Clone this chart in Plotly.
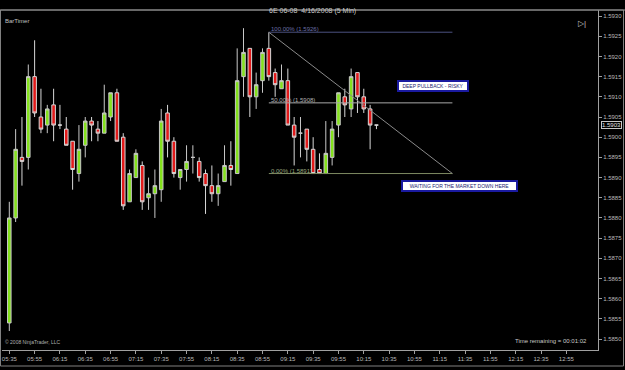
import math
import plotly.graph_objects as go
import pandas as pd

# ---- data (6E 06-08, 5 min bars, 4/16/2008) ----
opens = [1.5854, 1.5880, 1.5895, 1.5895, 1.5915, 1.5905, 1.5903, 1.5908, 1.5903, 1.5902,
         1.5899, 1.5891, 1.5898, 1.5904, 1.5902, 1.5901, 1.5905, 1.5911, 1.5900, 1.5884,
         1.5890, 1.5893, 1.5885, 1.5886, 1.5887, 1.5906, 1.5899, 1.5890, 1.5892, 1.5895,
         1.5894, 1.5891, 1.5888, 1.5886, 1.5889, 1.5893, 1.5891, 1.5915, 1.5922, 1.5910,
         1.5914, 1.5922, 1.5916, 1.5912, 1.5914, 1.5903, 1.5901, 1.5902, 1.5897, 1.5892,
         1.5891, 1.5895, 1.5903, 1.5910, 1.5907, 1.5916, 1.5910, 1.5907, 1.5903]
highs = [1.5884, 1.5902, 1.5905, 1.5918, 1.5924, 1.5912, 1.5908, 1.5912, 1.5908, 1.5905,
         1.5899, 1.5903, 1.5905, 1.5905, 1.5904, 1.5913, 1.5911, 1.5912, 1.5901, 1.5892,
         1.5897, 1.5894, 1.5890, 1.5892, 1.5907, 1.5908, 1.5900, 1.5892, 1.5898, 1.5898,
         1.5895, 1.5892, 1.5893, 1.5891, 1.5898, 1.5899, 1.5922, 1.5927, 1.5922, 1.5916,
         1.5922, 1.5926, 1.5917, 1.5918, 1.5917, 1.5905, 1.5905, 1.5902, 1.5900, 1.5896,
         1.5904, 1.5904, 1.5911, 1.5912, 1.5917, 1.5916, 1.5912, 1.5908, 1.5903]
lows = [1.5852, 1.5879, 1.5888, 1.5892, 1.5905, 1.5901, 1.5901, 1.5899, 1.5902, 1.5898,
        1.5887, 1.5889, 1.5895, 1.5899, 1.5899, 1.5901, 1.5904, 1.5899, 1.5882, 1.5884,
        1.5890, 1.5882, 1.5882, 1.5880, 1.5884, 1.5895, 1.5890, 1.5887, 1.5889, 1.5891,
        1.5889, 1.5881, 1.5884, 1.5883, 1.5889, 1.5888, 1.5891, 1.5910, 1.5905, 1.5907,
        1.5911, 1.5914, 1.5910, 1.5912, 1.5903, 1.5893, 1.5895, 1.5894, 1.5891, 1.5891,
        1.5891, 1.5893, 1.5900, 1.5905, 1.5905, 1.5906, 1.5906, 1.5897, 1.5902]
closes = [1.5880, 1.5897, 1.5894, 1.5915, 1.5906, 1.5902, 1.5907, 1.5903, 1.5903, 1.5898,
          1.5892, 1.5897, 1.5904, 1.5903, 1.5901, 1.5906, 1.5911, 1.5899, 1.5883, 1.5891,
          1.5896, 1.5884, 1.5886, 1.5888, 1.5904, 1.5899, 1.5891, 1.5892, 1.5894, 1.5895,
          1.5890, 1.5888, 1.5886, 1.5888, 1.5893, 1.5892, 1.5914, 1.5921, 1.5910, 1.5913,
          1.5921, 1.5915, 1.5913, 1.5914, 1.5903, 1.5900, 1.5901, 1.5897, 1.5891, 1.5891,
          1.5896, 1.5902, 1.5911, 1.5908, 1.5915, 1.5910, 1.5907, 1.5903, 1.5903]
times = pd.date_range("2008-04-16 05:35", periods=len(opens), freq="5min")
tick_times = pd.date_range("2008-04-16 05:35", "2008-04-16 12:55", freq="20min")

fib_high = 1.5926
fib_low = 1.5891
fib_mid = (fib_high + fib_low) / 2
fib_start = "2008-04-16 09:00"
fib_end = "2008-04-16 11:25"
last_price = 1.5903


def trunc4(v):
    return f"{math.floor(v * 10000 + 1e-6) / 10000:.4f}"


# ---- layout geometry helpers ----
W, H = 625, 370
ML, MR, MT, MB = 2, 27, 10, 20
PW, PH = W - ML - MR, H - MT - MB


def px(x):
    return (x - ML) / PW


def py(y):
    return (H - MB - y) / PH


FONT = "Liberation Sans"
GREY = "#b8b8b8"

fig = go.Figure()
fig.add_trace(go.Candlestick(
    x=times, open=opens, high=highs, low=lows, close=closes,
    increasing=dict(fillcolor="#84e11c", line=dict(color="#c8c8c8", width=1)),
    decreasing=dict(fillcolor="#e21a1a", line=dict(color="#d8d8d8", width=1)),
    whiskerwidth=0, showlegend=False, hoverinfo="skip",
))

shapes = []
# fib levels
shapes.append(dict(type="line", xref="x", yref="y", x0=fib_start, x1=fib_end,
                   y0=fib_high, y1=fib_high, line=dict(color="#4c5180", width=1)))
shapes.append(dict(type="line", xref="x", yref="y", x0=fib_start, x1=fib_end,
                   y0=fib_mid, y1=fib_mid, line=dict(color="#a8a8a8", width=1)))
shapes.append(dict(type="line", xref="x", yref="y", x0=fib_start, x1=fib_end,
                   y0=fib_low, y1=fib_low, line=dict(color="#7d8a62", width=1)))
shapes.append(dict(type="line", xref="x", yref="y", x0=fib_start, x1=fib_end,
                   y0=fib_high, y1=fib_low, line=dict(color="#8a8a8a", width=1)))
# frame
shapes.append(dict(type="rect", xref="paper", yref="paper", x0=px(0.5), x1=px(623.5),
                   y0=py(366), y1=py(10), line=dict(color="#808080", width=1)))
shapes.append(dict(type="line", xref="paper", yref="paper", x0=px(0), x1=px(625),
                   y0=py(10), y1=py(10), line=dict(color="#909090", width=1)))
fig.update_layout(shapes=shapes)

ann = []
ann.append(dict(text="6E 06-08  4/16/2008 (5 Min)", x=px(312), y=py(5), xref="paper", yref="paper",
                xanchor="center", showarrow=False, font=dict(size=7, color="#c8c8c8", family=FONT)))
ann.append(dict(text="BarTimer", x=px(3), y=py(16), xref="paper", yref="paper", xanchor="left",
                showarrow=False, font=dict(size=6, color="#c0c0c0", family=FONT)))
ann.append(dict(text="▷|", x=px(582), y=py(17), xref="paper", yref="paper", xanchor="center",
                showarrow=False, font=dict(size=8, color="#c0c0c0", family=FONT)))
ann.append(dict(text="© 2008 NinjaTrader, LLC", x=px(3), y=py(347), xref="paper", yref="paper",
                xanchor="left", showarrow=False, font=dict(size=5, color="#b0b0b0", family=FONT)))
ann.append(dict(text="Time remaining = 00:01:02", x=px(589), y=py(346), xref="paper", yref="paper",
                xanchor="right", showarrow=False, font=dict(size=6, color="#c8c8c8", family=FONT)))
# fib labels
ann.append(dict(text=f"100.00% ({trunc4(fib_high)})", x=fib_start, y=fib_high, xref="x", yref="y",
                xanchor="left", yanchor="bottom", yshift=-2, showarrow=False,
                font=dict(size=6, color="#6c70a8", family=FONT)))
ann.append(dict(text=f"50.00% ({trunc4(fib_mid)})", x=fib_start, y=fib_mid, xref="x", yref="y",
                xanchor="left", yanchor="bottom", yshift=-2, showarrow=False,
                font=dict(size=6, color="#b0b0b0", family=FONT)))
ann.append(dict(text=f"0.00% ({trunc4(fib_low)})", x=fib_start, y=fib_low, xref="x", yref="y",
                xanchor="left", yanchor="bottom", yshift=-2, showarrow=False,
                font=dict(size=6, color="#9aa77e", family=FONT)))
# text boxes
ann.append(dict(text="DEEP PULLBACK - RISKY", x=px(433), y=py(85.5), xref="paper", yref="paper",
                xanchor="center", yanchor="middle",
                showarrow=False, bgcolor="white", bordercolor="#1a1aa0", borderwidth=2, borderpad=1,
                width=66, font=dict(size=5, color="#1a1a70", family=FONT)))
ann.append(dict(text="WAITING FOR THE MARKET DOWN HERE", x=px(459), y=py(186), xref="paper", yref="paper",
                xanchor="center", yanchor="middle",
                showarrow=False, bgcolor="white", bordercolor="#1a1aa0", borderwidth=2, borderpad=1,
                width=111, font=dict(size=5, color="#1a1a70", family=FONT)))
# last price marker
ann.append(dict(text=f"{last_price:.4f}", x=px(601), y=last_price, xref="paper", yref="y",
                xanchor="left", showarrow=False, bgcolor="black", bordercolor="#c8c8c8",
                borderwidth=1, borderpad=0, font=dict(size=6, color="#e0e0e0", family=FONT)))
fig.update_layout(annotations=ann)

fig.update_layout(
    width=W, height=H,
    margin=dict(l=ML, r=MR, t=MT, b=MB),
    paper_bgcolor="black", plot_bgcolor="black",
    font=dict(family=FONT, size=6, color=GREY),
    boxgap=0.2,
    xaxis=dict(
        type="date", rangeslider=dict(visible=False),
        range=["2008-04-16 05:29:14", "2008-04-16 13:20:00"],
        tickmode="array", tickvals=list(tick_times),
        ticktext=[t.strftime("%H:%M") for t in tick_times],
        ticks="outside", ticklen=3, tickcolor="#a0a0a0",
        showgrid=False, zeroline=False, showline=True, linecolor="#a0a0a0", linewidth=1,
        tickfont=dict(size=6, color=GREY, family=FONT),
    ),
    yaxis=dict(
        side="right", range=[1.58473, 1.59315],
        tick0=1.5850, dtick=0.0005, tickformat=".4f",
        ticks="outside", ticklen=3, tickcolor="#a0a0a0",
        showgrid=False, zeroline=False, showline=True, linecolor="#a0a0a0", linewidth=1,
        tickfont=dict(size=6, color=GREY, family=FONT),
    ),
)

fig.write_html("out.html")
